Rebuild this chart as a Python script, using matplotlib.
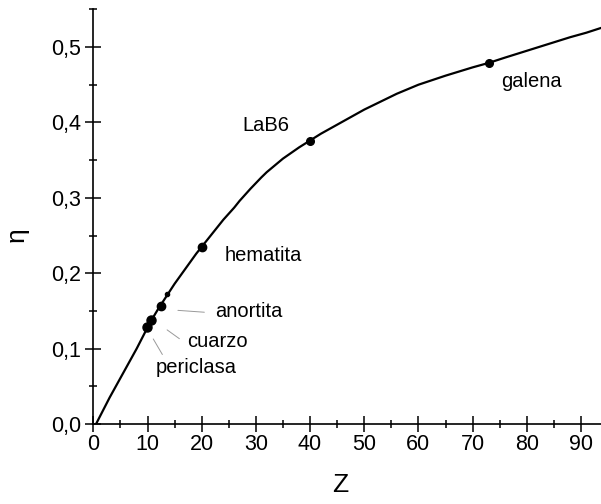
import matplotlib
matplotlib.use("Agg")
import matplotlib.pyplot as plt
from matplotlib.ticker import MultipleLocator, FuncFormatter

plt.rcParams["font.family"] = ["Liberation Sans", "DejaVu Sans"]

# curve
curve_z = [0.5, 1, 2, 3, 4, 5, 6, 7, 8, 9, 10, 11, 12, 13, 14, 15, 16, 17, 18, 19,
           20, 21, 22, 23, 24, 25, 26, 27, 28, 29, 30, 31, 32, 33, 34, 35, 36, 37,
           38, 39, 40, 42, 44, 46, 48, 50, 52, 54, 56, 58, 60, 62.5, 65, 67.5, 70,
           73, 76, 80, 84, 88, 91, 94]
curve_eta = [0.0, 0.007, 0.021, 0.035, 0.048, 0.061, 0.074, 0.087, 0.100, 0.114,
             0.128, 0.141, 0.153, 0.164, 0.175, 0.186, 0.196, 0.206, 0.216, 0.226,
             0.235, 0.244, 0.253, 0.262, 0.271, 0.279, 0.287, 0.296, 0.304, 0.312,
             0.3195, 0.327, 0.334, 0.340, 0.346, 0.352, 0.357, 0.362, 0.367, 0.3715,
             0.376, 0.385, 0.393, 0.401, 0.409, 0.417, 0.424, 0.431, 0.438, 0.444,
             0.450, 0.456, 0.462, 0.4675, 0.473, 0.479, 0.486, 0.495, 0.504, 0.513,
             0.519, 0.526]

# materials
names = ["periclasa", "cuarzo", "anortita", "hematita", "LaB6", "galena"]
mat_z = [9.9, 10.7, 12.4, 20.0, 40.0, 73.0]
mat_eta = [0.129, 0.138, 0.156, 0.235, 0.376, 0.479]
mat_size = [6.5, 6.5, 6.0, 6.0, 5.5, 5.5]

# label anchors (text position) and leader lines
text_z = [11.5, 17.3, 22.5, 24.3, 27.6, 75.2]
text_eta = [0.075, 0.109, 0.149, 0.223, 0.396, 0.454]
lead_from = {"periclasa": (13.0, 0.089), "cuarzo": (16.3, 0.111), "anortita": (21.0, 0.148)}
lead_to = {"periclasa": (10.8, 0.116), "cuarzo": (13.2, 0.127), "anortita": (15.1, 0.151)}

fig = plt.figure(figsize=(6.01, 5.04), dpi=100)
ax = fig.add_axes([0.1553, 0.1587, 0.8447, 0.8228])

ax.plot(curve_z, curve_eta, color="black", lw=1.6, solid_joinstyle="round")
for z, e, s in zip(mat_z, mat_eta, mat_size):
    ax.plot(z, e, "o", color="black", ms=s)
ax.plot(13.6, 0.172, "o", color="black", ms=3)

for n, tz, te in zip(names, text_z, text_eta):
    ax.text(tz, te, n, fontsize=14.5, ha="left", va="center")
    if n in lead_from:
        ax.annotate("", xy=lead_to[n], xytext=lead_from[n],
                    arrowprops=dict(arrowstyle="-", color="#999999", lw=0.7))

ax.set_xlim(0, 93.7)
ax.set_ylim(0, 0.55)
for s in ["top", "right"]:
    ax.spines[s].set_visible(False)
for s in ["left", "bottom"]:
    ax.spines[s].set_linewidth(1.2)

ax.xaxis.set_major_locator(MultipleLocator(10))
ax.xaxis.set_minor_locator(MultipleLocator(5))
ax.yaxis.set_major_locator(MultipleLocator(0.1))
ax.yaxis.set_minor_locator(MultipleLocator(0.05))
ax.yaxis.set_major_formatter(FuncFormatter(lambda v, p: f"{v:.1f}".replace(".", ",")))
ax.tick_params(which="major", direction="inout", length=11.5, width=1.1, labelsize=15.5)
ax.tick_params(which="minor", direction="inout", length=5.8, width=1.1)
ax.tick_params(axis="x", pad=1.5)
ax.tick_params(axis="y", pad=3)

ax.set_xlabel("Z", fontsize=19)
ax.set_ylabel("η", fontsize=19)
ax.xaxis.set_label_coords(0.486, -0.118)
ax.yaxis.set_label_coords(-0.128, 0.456)

fig.savefig("out.png", dpi=100)
